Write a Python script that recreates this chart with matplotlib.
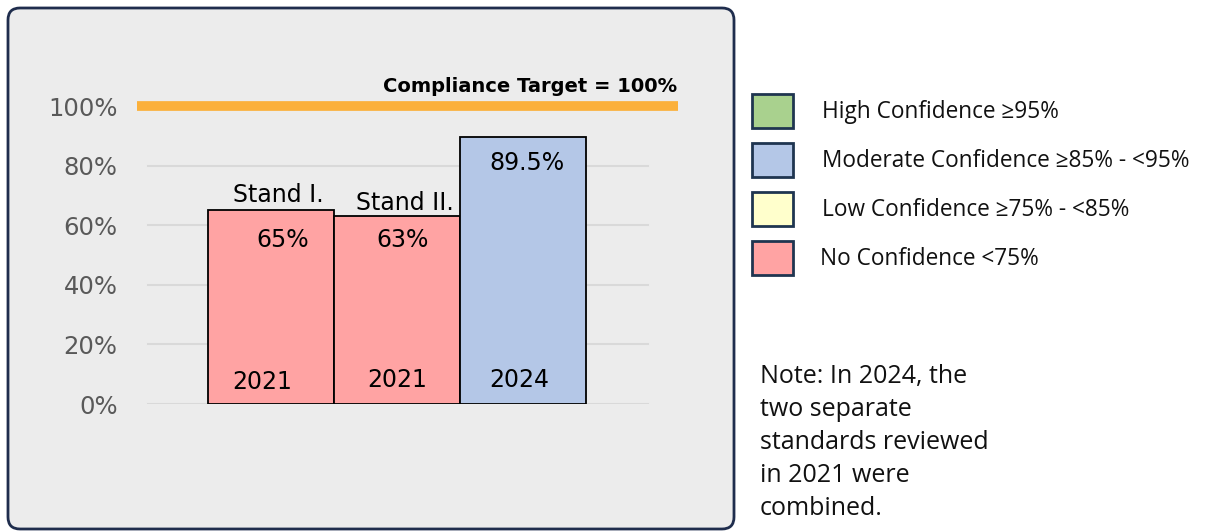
import matplotlib
matplotlib.use("Agg")
import matplotlib.pyplot as plt
from matplotlib.patches import FancyBboxPatch, Rectangle
from matplotlib.ticker import PercentFormatter

# data
bar_years = ['2021', '2021', '2024']
bar_names = ['Stand I.', 'Stand II.', '']
bar_values = [0.65, 0.63, 0.895]
bar_labels = ['65%', '63%', '89.5%']
bar_colors = ['#ffa3a3', '#ffa3a3', '#b4c7e7']
target = 1.0
target_label = 'Compliance Target = 100%'
yticks = [0, 0.2, 0.4, 0.6, 0.8, 1.0]

legend_labels = ['High Confidence \u226595%',
                 'Moderate Confidence \u226585% - <95%',
                 'Low Confidence \u226575% - <85%',
                 'No Confidence <75%']
legend_colors = ['#a9d18e', '#b4c7e7', '#ffffcc', '#ffa3a3']
note = 'Note: In 2024, the\ntwo separate\nstandards reviewed\nin 2021 were\ncombined.'

W, H = 1205, 532
fig = plt.figure(figsize=(W / 100, H / 100), dpi=100)

# background canvas in pixel coordinates
bg = fig.add_axes([0, 0, 1, 1])
bg.set_xlim(0, W)
bg.set_ylim(H, 0)
bg.axis('off')
bg.add_patch(FancyBboxPatch((8, 8), 726, 521, boxstyle='round,pad=0,rounding_size=12',
                            facecolor='#ececec', edgecolor='#1f2d4d', linewidth=2))

# legend boxes
for i, (lab, col) in enumerate(zip(legend_labels, legend_colors)):
    y0 = 94 + i * 49
    bg.add_patch(Rectangle((752, y0), 41, 34, facecolor=col, edgecolor='#1f3550', linewidth=2))
    bg.text(822 if i < 3 else 820, y0 + 18, lab, fontsize=16.3, va='center', ha='left',
            family=['Open Sans', 'DejaVu Sans'], color='#111111')

bg.text(760, 364, note, fontsize=18, va='top', ha='left', linespacing=1.42,
        family=['Open Sans', 'DejaVu Sans'], color='#111111')

# main chart axes: x from px 137 to 678, y=0 at px 404, 100% at px 106
ymax = 1.1
ax_h = 298 * ymax / H
ax = fig.add_axes([137 / W, (H - 404) / H, 541 / W, ax_h])
ax.set_facecolor('none')
ax.set_xlim(-1.063, 3.230)
ax.set_ylim(0, ymax)
for s in ax.spines.values():
    s.set_visible(False)

for t in yticks:
    ax.axhline(t, xmin=(148 - 137) / 541, xmax=(648 - 137) / 541, color='#d9d9d9', lw=1.5, zorder=1)

x = range(len(bar_values))
ax.bar(x, bar_values, width=1.0, color=bar_colors, edgecolor='black', linewidth=1.3, zorder=3)

ax.axhline(target, color='#fbb03b', lw=7, zorder=4, clip_on=False, solid_capstyle='butt')
ax.text(3.225, target + 0.065, target_label, ha='right', va='center', fontsize=14,
        fontweight='bold', color='black')

ax.set_yticks(yticks)
ax.yaxis.set_major_formatter(PercentFormatter(1.0, decimals=0))
ax.tick_params(axis='y', length=0, pad=14, labelsize=17.5, labelcolor='#595959')
ax.set_xticks([])

txt = dict(fontsize=17, color='black', ha='center', va='center', zorder=5)
name_pos = [(0.056, 0.70), (1.063, 0.675)]
val_pos = [(0.095, 0.55), (1.048, 0.55), (2.03, 0.81)]
year_pos = [(-0.07, 0.074), (1.0, 0.08), (1.97, 0.08)]
for (px, py), name in zip(name_pos, bar_names):
    ax.text(px, py, name, **txt)
for (px, py), lab in zip(val_pos, bar_labels):
    ax.text(px, py, lab, **txt)
for (px, py), yr in zip(year_pos, bar_years):
    ax.text(px, py, yr, **txt)

fig.savefig('out.png', dpi=100)
